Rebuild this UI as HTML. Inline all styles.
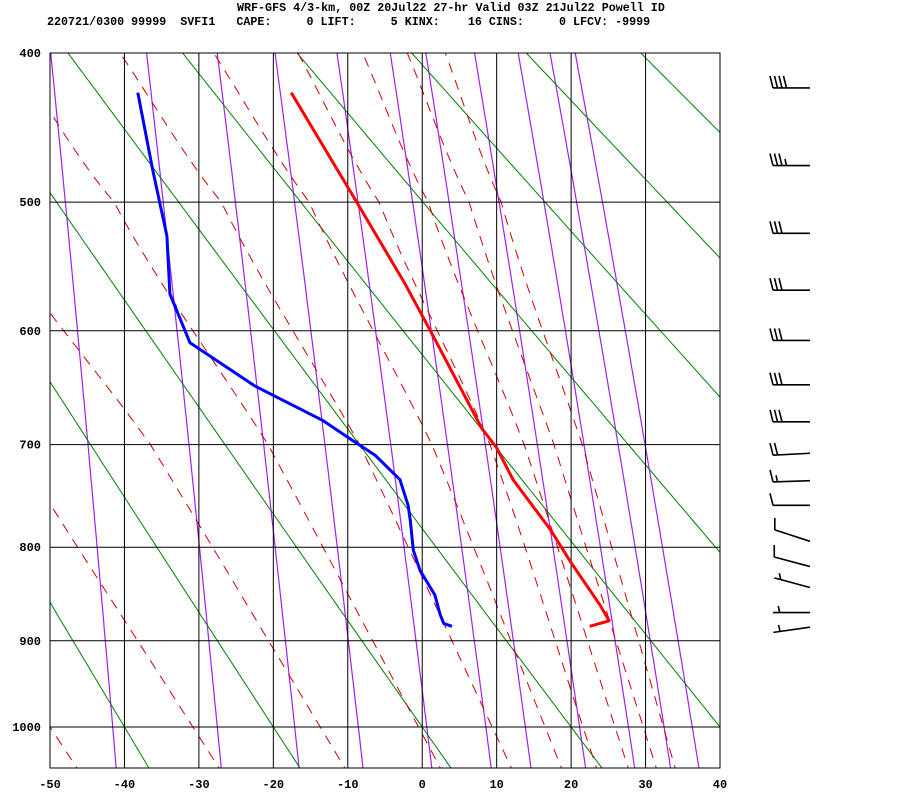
<!DOCTYPE html>
<html><head><meta charset="utf-8"><style>
html,body{margin:0;padding:0;background:#fff;width:900px;height:800px;overflow:hidden}
svg{display:block}
text{font-family:"Liberation Mono",monospace;font-weight:bold;fill:#000}
</style></head><body>
<svg id="chart" width="900" height="800" viewBox="0 0 900 800" xmlns="http://www.w3.org/2000/svg">
<text x="237" y="11" font-size="11.7">WRF-GFS 4/3-km, 00Z 20Jul22 27-hr Valid 03Z 21Jul22 Powell ID</text>
<text x="47" y="25" font-size="11.7" xml:space="preserve">220721/0300 99999  SVFI1   CAPE:     0 LIFT:     5 KINX:    16 CINS:     0 LFCV: -9999</text>
<defs><clipPath id="plotclip"><rect x="50" y="53" width="670" height="715"/></clipPath></defs>
<g id="bg" clip-path="url(#plotclip)"></g>
<g id="grid"></g>
<g id="traces" clip-path="url(#plotclip)"></g>
<g id="axes"></g>
<g id="barbs"></g>
</svg>
<script>
// ---- data ----
const tempTicks = [-50,-40,-30,-20,-10,0,10,20,30,40];
const presTicks = [400,500,600,700,800,900,1000];
const tempP = [425,500,562,600,685,703,733,782,816,861,878,884];
const tempT = [-17.6,-8.8,-2.3,1.1,8.0,10.0,12.2,17.2,20.0,23.9,25.1,22.5];
const dewP = [425,477,525,570,610,647,678,696,710,733,758,773,803,824,850,871,881,884];
const dewT = [-38.2,-36.2,-34.3,-33.9,-31.2,-22.5,-13.3,-9.4,-6.3,-3.0,-1.9,-1.6,-1.2,-0.3,1.7,2.4,2.9,4.0];
const dryT1000 = [-80,-60,-40,-20,0,20,40,60,80,100,120,140];
const moistNodeP = [1000,700,500,400];
const moistT1000 = [32.4,29.7,25.9,21.6,16.5,9.4,-0.5,-13.7,-30.8,-50];
const moistT700  = [21.5,17.7,13.7,9.1,1.3,-8.4,-20.7,-36.5,-55,-75];
const moistT500  = [10.6,6.3,0.8,-5.8,-15.2,-27,-41.4,-60,-78,-98];
const moistT400  = [3.1,-2,-8,-16.7,-28,-40.6,-55,-72,-90,-110];
const mixW = [0.1,0.4,1,2,4,7,10,16,24,32,40];
const barbP = [422,474,523,567,608,646,679,708,734,758,794,820,842,869,885];
const barbSpd = [40,35,30,30,30,30,30,20,15,10,10,10,5,5,5];
const barbTilt = [0,0,0,0,0,0,0,-3,-2,0,18,15,15,0,-8];

// ---- scales ----
const X0=50,X1=720,Y0=53,Y1=727,K=0.27;
const a0=Math.pow(400,K),a1=Math.pow(1000,K);
function xS(t){return X0+(t+50)*(X1-X0)/90;}
function yS(p){return Y0+(Math.pow(p,K)-a0)/(a1-a0)*(Y1-Y0);}
const NS="http://www.w3.org/2000/svg";
function mk(tag,attrs,parent){const e=document.createElementNS(NS,tag);for(const k in attrs)e.setAttribute(k,attrs[k]);parent.appendChild(e);return e;}
const bg=document.getElementById('bg'),grid=document.getElementById('grid'),tr=document.getElementById('traces'),ax=document.getElementById('axes'),bb=document.getElementById('barbs');
function pathFrom(pts){return pts.map((q,i)=>(i?'L':'M')+q[0].toFixed(1)+' '+q[1].toFixed(1)).join(' ');}
const pList=[];for(let p=1060;p>=395;p-=5)pList.push(p);

// mixing ratio lines
mixW.forEach(w=>{
  const pts=pList.map(p=>{const e=w*p/(622+w);const l=Math.log(e/6.112);const t=243.5*l/(17.67-l);return [xS(t),yS(p)];});
  const el=mk('path',{d:pathFrom(pts),fill:'none',stroke:'#a020f0','stroke-width':1.2},bg);
  
  
});
// dry adiabats
dryT1000.forEach(t0=>{
  const th=t0+273.15;
  const pts=pList.map(p=>[xS(th*Math.pow(p/1000,0.286)-273.15),yS(p)]);
  const el=mk('path',{d:pathFrom(pts),fill:'none',stroke:'#008000','stroke-width':1},bg);
  
  
});
// moist adiabats (smooth through nodes)
moistT1000.forEach((t0,i)=>{
  const vals=[t0,moistT700[i],moistT500[i],moistT400[i]];
  const ys=moistNodeP.map(yS);
  const pts=[];
  // extend below 1000 using 1000-700 slope
  const s0=(vals[1]-vals[0])/(ys[1]-ys[0]);
  pts.push([xS(vals[0]+s0*(775-ys[0])),775]);
  for(let k=0;k<3;k++){
    const steps=12;
    for(let j=0;j<steps;j++){
      const f=j/steps;
      // quadratic-ish smoothing using Catmull-Rom
      const P0=k>0?vals[k-1]:2*vals[0]-vals[1];
      const P3=k<2?vals[k+2]:2*vals[3]-vals[2];
      const P1=vals[k],P2=vals[k+1];
      const f2=f*f,f3=f2*f;
      const v=0.5*((2*P1)+(-P0+P2)*f+(2*P0-5*P1+4*P2-P3)*f2+(-P0+3*P1-3*P2+P3)*f3);
      const y=ys[k]+(ys[k+1]-ys[k])*f;
      pts.push([xS(v),y]);
    }
  }
  pts.push([xS(vals[3]),ys[3]]);
  const el=mk('path',{d:pathFrom(pts),fill:'none',stroke:'#d00000','stroke-width':1,'stroke-dasharray':'10,8'},bg);
  
  
});
// grid
tempTicks.forEach(t=>{
  const el=mk('line',{x1:xS(t),x2:xS(t),y1:Y0,y2:768,stroke:'#000','stroke-width':1},grid);
  
  
  const lb=mk('text',{x:xS(t),y:788,'font-size':12,'text-anchor':'middle'},ax);lb.textContent=String(t);
  
  
});
presTicks.forEach(p=>{
  const el=mk('line',{x1:X0,x2:X1,y1:yS(p),y2:yS(p),stroke:'#000','stroke-width':1},grid);
  
  
  const lb=mk('text',{x:41,y:yS(p)+4,'font-size':12,'text-anchor':'end'},ax);lb.textContent=String(p);
  
  
});
const fr=mk('rect',{x:X0,y:Y0,width:X1-X0,height:768-Y0,fill:'none',stroke:'#000','stroke-width':1},grid);


// traces
const tl=mk('path',{d:pathFrom(tempP.map((p,i)=>[xS(tempT[i]),yS(p)])),fill:'none',stroke:'#ff0000','stroke-width':3,'stroke-linejoin':'round'},tr);


const dl=mk('path',{d:pathFrom(dewP.map((p,i)=>[xS(dewT[i]),yS(p)])),fill:'none',stroke:'#0000ff','stroke-width':3,'stroke-linejoin':'round'},tr);


// barbs
barbP.forEach((p,i)=>{
  const y=yS(p),bx=810,L=37,ang=barbTilt[i]*Math.PI/180;
  const ux=-Math.cos(ang),uy=-Math.sin(ang);
  const ex=bx+ux*L,ey=y+uy*L;
  const g=mk('g',{},bb);
  
  
  mk('line',{x1:bx,y1:y,x2:ex,y2:ey,stroke:'#000','stroke-width':1.6},g);
  const s=barbSpd[i];let pos=0;
  const full=Math.floor(s/10),half=(s%10)>=5?1:0;
  const lean=barbTilt[i]>5?0:-3;
  for(let f=0;f<full;f++){const px=ex-ux*pos*4.5,py=ey-uy*pos*4.5;mk('line',{x1:px,y1:py,x2:px+lean,y2:py-12,stroke:'#000','stroke-width':1.6},g);pos++;}
  if(half){if(full===0)pos=1.5;const px=ex-ux*pos*4.5,py=ey-uy*pos*4.5;mk('line',{x1:px,y1:py,x2:px-1.5,y2:py-6.5,stroke:'#000','stroke-width':1.6},g);}
});
</script>
</body></html>
